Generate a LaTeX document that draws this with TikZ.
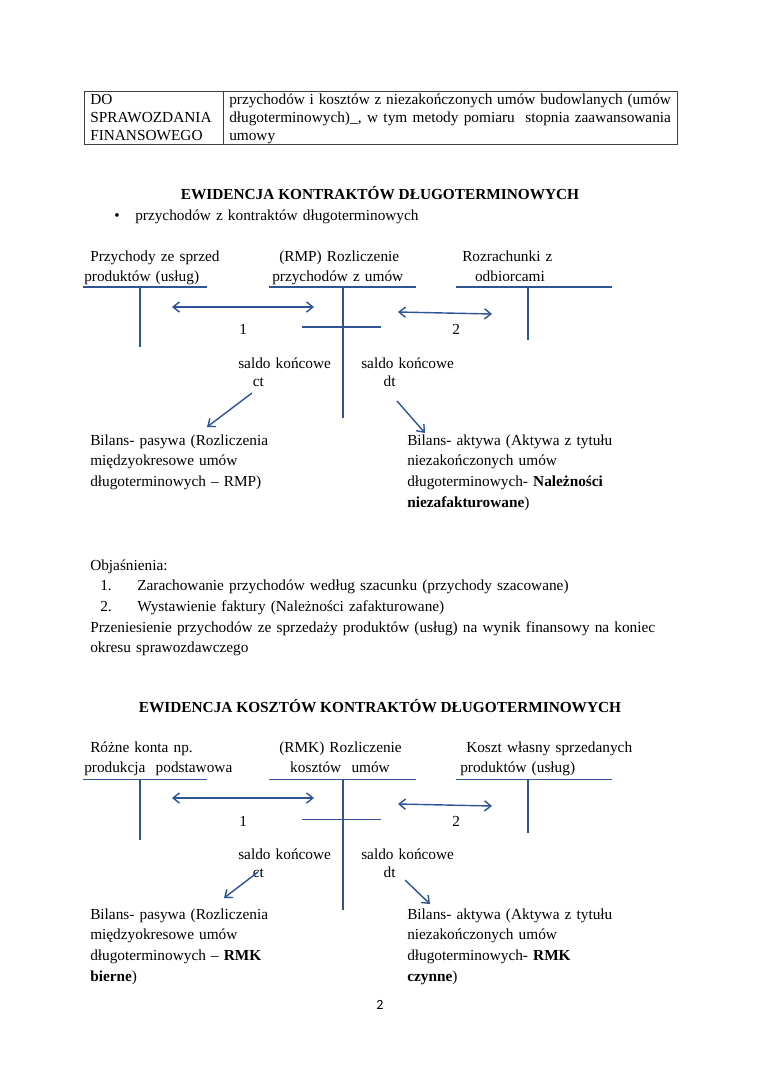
\documentclass[tikz,border=0pt]{standalone}
\usepackage{fontspec}
\setmainfont{Liberation Serif}
\newfontfamily\pagefont{Carlito}
\usetikzlibrary{arrows.meta,backgrounds}

\definecolor{kontoblue}{RGB}{47,84,150}
\tikzset{
  konto/.style={draw=kontoblue, line width=0.8pt},
  ruch/.style={draw=kontoblue, line width=1.1pt,
    {Straight Barb[length=5pt,width=8pt]}-{Straight Barb[length=5pt,width=8pt]}},
  saldoarrow/.style={draw=kontoblue, line width=1.1pt, -{Straight Barb[length=5pt,width=8pt]}},
  tekst/.style={anchor=base west, inner sep=0pt, text width=460pt, align=left,
    font=\fontsize{12pt}{16.4pt}\selectfont},
  tytul/.style={anchor=base, inner sep=0pt, font=\fontsize{12pt}{14pt}\selectfont\bfseries},
}

\begin{document}
\begin{tikzpicture}[x=0.7833pt, y=-0.7833pt,
  background rectangle/.style={fill=white}, inner frame sep=0pt, show background rectangle]
  \useasboundingbox (0,0) rectangle (760,1075);

  % Table row
  \draw[line width=0.7pt, black!75] (84,91) rectangle (677,144);
  \draw[line width=0.7pt, black!75] (223,91) -- (223,144);
  \node[tekst, font=\fontsize{12pt}{14.1pt}\selectfont] (opis) at (90,104)
    {DO\\SPRAWOZDANIA\\FINANSOWEGO};
  \node[tekst, text width=346pt, align=justify, font=\fontsize{12pt}{14.1pt}\selectfont] (tresc) at (229,104)
    {przychodów i kosztów z niezakończonych umów budowlanych (umów\linebreak
     długoterminowych)\_, w tym metody pomiaru\ \ stopnia zaawansowania\linebreak umowy};

  % Revenues
  \node[tytul] (tytul1) at (380,199) {EWIDENCJA KONTRAKTÓW DŁUGOTERMINOWYCH};
  \node[tekst, text width=20pt] (kropka) at (114,220) {\textbullet};
  \node[tekst] (podtytul) at (135,220) {przychodów z kontraktów długoterminowych};

  % Account titles
  \node[tekst] (kontoA1) at (84,261) {\hspace*{4.7pt}Przychody ze sprzed\\produktów (usług)};
  \node[tekst] (kontoB1) at (272,261) {\hspace*{5.5pt}(RMP) Rozliczenie\\przychodów z umów};
  \node[tekst] (kontoC1) at (462,261) {Rozrachunki z\\\hspace*{10pt}odbiorcami};

  % T-accounts
  \draw[konto] (83,287) -- (207,287) (140,287) -- (140,347);
  \draw[konto] (269,287) -- (416,287) (343,287) -- (343,418) (302,327) -- (381,327);
  \draw[konto] (456,287) -- (612,287) (528,287) -- (528,340);

  % Entries
  \coordinate (r1a) at (172,307);
  \coordinate (r1b) at (314,307);
  \coordinate (r2a) at (398,312);
  \coordinate (r2b) at (492,314);
  \draw[ruch] (r1a) -- (r1b);
  \draw[ruch] (r2a) -- (r2b);
  \node[tekst] (nr1) at (239,334) {1};
  \node[tekst] (nr2) at (452,334) {2};

  % Balances
  \node[tekst, font=\fontsize{12pt}{14.1pt}\selectfont] (saldoct1) at (238,368) {saldo końcowe\\\hspace*{11.5pt}ct};
  \node[tekst, font=\fontsize{12pt}{14.1pt}\selectfont] (saldodt1) at (361,368) {saldo końcowe\\\hspace*{17.5pt}dt};
  \coordinate (ct1a) at (252,393);
  \coordinate (ct1b) at (207,427);
  \coordinate (dt1a) at (397,401);
  \coordinate (dt1b) at (425,433);
  \draw[saldoarrow] (ct1a) -- (ct1b);
  \draw[saldoarrow] (dt1a) -- (dt1b);

  \node[tekst] (pasywa1) at (90,445)
    {Bilans- pasywa (Rozliczenia\\międzyokresowe umów\\długoterminowych – RMP)};
  \node[tekst] (aktywa1) at (407,445)
    {Bilans- aktywa (Aktywa z tytułu\\niezakończonych umów\\długoterminowych- \textbf{Należności}\\\textbf{niezafakturowane})};

  % Notes
  \node[tekst] (objasn) at (90,570) {Objaśnienia:};
  \node[tekst] (pkt1) at (100,590) {\makebox[29pt][l]{1.}Zarachowanie przychodów według szacunku (przychody szacowane)};
  \node[tekst] (pkt2) at (100,611) {\makebox[29pt][l]{2.}Wystawienie faktury (Należności zafakturowane)};
  \node[tekst] (przen) at (90,632)
    {Przeniesienie przychodów ze sprzedaży produktów (usług) na wynik finansowy na koniec\\okresu sprawozdawczego};

  % Costs
  \node[tytul] (tytul2) at (380,712) {EWIDENCJA KOSZTÓW KONTRAKTÓW DŁUGOTERMINOWYCH};

  \node[tekst] (kontoA2) at (84,752) {\hspace*{4.7pt}Różne konta np.\\produkcja\ \ podstawowa};
  \node[tekst] (kontoB2) at (279,752) {(RMK) Rozliczenie\\\hspace*{8.6pt}kosztów\ \ umów};
  \node[tekst] (kontoC2) at (460,752) {\hspace*{4.7pt}Koszt własny sprzedanych\\produktów (usług)};

  \draw[konto] (83,779) -- (207,779) (140,779) -- (140,840);
  \draw[konto] (269,779) -- (416,779) (343,779) -- (343,910) (302,819) -- (381,819);
  \draw[konto] (456,779) -- (612,779) (528,779) -- (528,833);

  \coordinate (k1a) at (172,798);
  \coordinate (k1b) at (314,798);
  \coordinate (k2a) at (398,804);
  \coordinate (k2b) at (492,806);
  \draw[ruch] (k1a) -- (k1b);
  \draw[ruch] (k2a) -- (k2b);
  \node[tekst] (nr3) at (239,826) {1};
  \node[tekst] (nr4) at (452,826) {2};

  \node[tekst, font=\fontsize{12pt}{14.1pt}\selectfont] (saldoct2) at (238,859) {saldo końcowe\\\hspace*{11.5pt}ct};
  \node[tekst, font=\fontsize{12pt}{14.1pt}\selectfont] (saldodt2) at (361,859) {saldo końcowe\\\hspace*{17.5pt}dt};
  \coordinate (ct2a) at (258,872);
  \coordinate (ct2b) at (224,898);
  \coordinate (dt2a) at (405,880);
  \coordinate (dt2b) at (430,904);
  \draw[saldoarrow] (ct2a) -- (ct2b);
  \draw[saldoarrow] (dt2a) -- (dt2b);

  \node[tekst] (pasywa2) at (90,919)
    {Bilans- pasywa (Rozliczenia\\międzyokresowe umów\\długoterminowych – \textbf{RMK}\\\textbf{bierne})};
  \node[tekst] (aktywa2) at (407,919)
    {Bilans- aktywa (Aktywa z tytułu\\niezakończonych umów\\długoterminowych- \textbf{RMK}\\\textbf{czynne})};

  % Page number
  \node[anchor=base, inner sep=0pt, font=\pagefont\fontsize{11pt}{13pt}\selectfont] (strona) at (380,1009) {2};

\end{tikzpicture}
\end{document}
